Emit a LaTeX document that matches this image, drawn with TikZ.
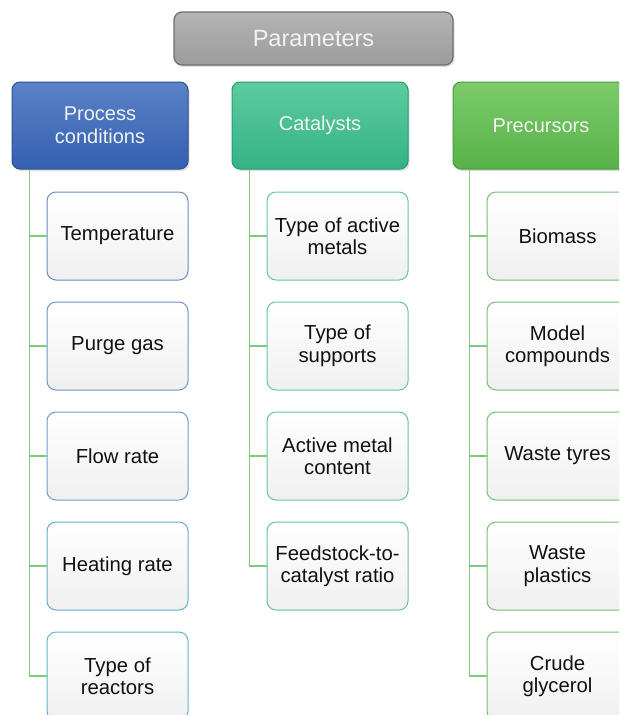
\documentclass[tikz,border=0pt]{standalone}
\usepackage{fontspec}
\setmainfont{Liberation Sans}
\usetikzlibrary{shadows}
\definecolor{procA}{HTML}{5A82C8}
\definecolor{procB}{HTML}{3560B0}
\definecolor{procD}{HTML}{2D4F96}
\definecolor{catA}{HTML}{5CCBA0}
\definecolor{catB}{HTML}{35B385}
\definecolor{catD}{HTML}{2A9A70}
\definecolor{preA}{HTML}{7CCB6C}
\definecolor{preB}{HTML}{58B248}
\definecolor{preD}{HTML}{479A3A}
\definecolor{parA}{HTML}{B4B4B4}
\definecolor{parB}{HTML}{9C9C9C}
\definecolor{parD}{HTML}{6E6E6E}
\definecolor{linkc}{HTML}{80CA7A}
\definecolor{txt}{HTML}{111111}
\tikzset{
  header/.style={rounded corners=8pt, minimum width=176pt, minimum height=87pt,
    text=white!95!black, font=\fontsize{20}{23}\selectfont, align=center,
    line width=1pt, drop shadow={shadow xshift=1.5pt, shadow yshift=-2pt, opacity=0.25}},
  childbox/.style={rounded corners=9pt, minimum width=141pt, minimum height=88pt,
    text=txt, font=\fontsize{20.3}{22.5}\selectfont, align=center, line width=1pt,
    top color=white, bottom color=black!6},
  conn/.style={draw=linkc, line width=1.8pt},
}
\begin{document}
\begin{tikzpicture}[x=1pt,y=-1pt]
\useasboundingbox (0,0) rectangle (619,715);
\clip (0,0) rectangle (619,715);
\fill[white] (0,0) rectangle (619,715);

% top node
\node[rounded corners=8pt, minimum width=279pt, minimum height=53pt,
  top color=parA, bottom color=parB, draw=parD, line width=1.2pt,
  text=white!95!black, font=\fontsize{23.5}{26}\selectfont,
  drop shadow={shadow xshift=1.5pt, shadow yshift=-2pt, opacity=0.25}]
  (par) at (313.5,38.5) {Parameters};

% headers
\node[header, top color=procA, bottom color=procB, draw=procD] (h1) at (100,125.5) {Process\\conditions};
\node[header, top color=catA, bottom color=catB, draw=catD] (h2) at (320,125.5) {Catalysts};
\node[header, top color=preA, bottom color=preB, draw=preD] (h3) at (541,125.5) {Precursors};

% process conditions children
\node[childbox, draw={rgb,255:red,112;green,138;blue,200}] (p1) at (117.5,236) {Temperature};
\node[childbox, draw={rgb,255:red,110;green,148;blue,202}] (p2) at (117.5,346) {Purge gas};
\node[childbox, draw={rgb,255:red,106;green,160;blue,204}] (p3) at (117.5,456) {Flow rate};
\node[childbox, draw={rgb,255:red,100;green,172;blue,202}] (p4) at (117.5,566) {Heating rate};
\node[childbox, draw={rgb,255:red,94;green,184;blue,200}] (p5) at (117.5,676) {Type of\\reactors};

% catalysts children
\node[childbox, draw={rgb,255:red,100;green,196;blue,176}] (c1) at (337.5,236) {Type of active\\metals};
\node[childbox, draw={rgb,255:red,102;green,196;blue,168}] (c2) at (337.5,346) {Type of\\supports};
\node[childbox, draw={rgb,255:red,104;green,196;blue,160}] (c3) at (337.5,456) {Active metal\\content};
\node[childbox, draw={rgb,255:red,106;green,194;blue,150}] (c4) at (337.5,566) {Feedstock-to-\\catalyst ratio};

% precursors children
\node[childbox, draw={rgb,255:red,118;green,190;blue,118}] (r1) at (557.5,236) {Biomass};
\node[childbox, draw={rgb,255:red,118;green,190;blue,118}] (r2) at (557.5,346) {Model\\compounds};
\node[childbox, draw={rgb,255:red,118;green,190;blue,118}] (r3) at (557.5,456) {Waste tyres};
\node[childbox, draw={rgb,255:red,118;green,190;blue,118}] (r4) at (557.5,566) {Waste\\plastics};
\node[childbox, draw={rgb,255:red,118;green,190;blue,118}] (r5) at (557.5,676) {Crude\\glycerol};

% connectors
\coordinate (s1) at ([xshift=18pt]h1.south west);
\coordinate (s2) at ([xshift=18pt]h2.south west);
\coordinate (s3) at ([xshift=17pt]h3.south west);
\foreach \c in {p1,p2,p3,p4,p5} \draw[conn] (s1) |- (\c.west);
\foreach \c in {c1,c2,c3,c4} \draw[conn] (s2) |- (\c.west);
\foreach \c in {r1,r2,r3,r4,r5} \draw[conn] (s3) |- (\c.west);
\end{tikzpicture}
\end{document}
